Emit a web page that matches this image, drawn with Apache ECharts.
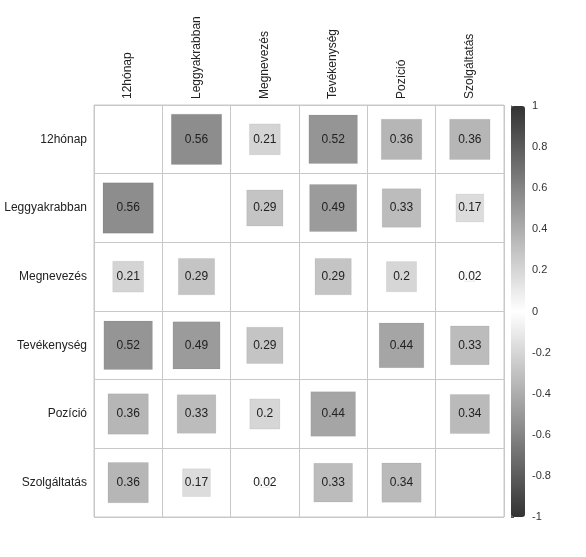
<!DOCTYPE html>
<html>
<head>
<meta charset="utf-8">
<script src="https://cdn.jsdelivr.net/npm/echarts@6/dist/echarts.min.js"></script>
<style>html,body{margin:0;padding:0;background:#fff;}#c{width:586px;height:557px;}</style>
</head>
<body>
<div id="c"></div>
<script>
const categories = ['12hónap', 'Leggyakrabban', 'Megnevezés', 'Tevékenység', 'Pozíció', 'Szolgáltatás'];
const row12honap       = [1.00, 0.56, 0.21, 0.52, 0.36, 0.36];
const rowLeggyakrabban = [0.56, 1.00, 0.29, 0.49, 0.33, 0.17];
const rowMegnevezes    = [0.21, 0.29, 1.00, 0.29, 0.20, 0.02];
const rowTevekenyseg   = [0.52, 0.49, 0.29, 1.00, 0.44, 0.33];
const rowPozicio       = [0.36, 0.33, 0.20, 0.44, 1.00, 0.34];
const rowSzolgaltatas  = [0.36, 0.17, 0.02, 0.33, 0.34, 1.00];
const colorbarTicks = [-1, -0.8, -0.6, -0.4, -0.2, 0, 0.2, 0.4, 0.6, 0.8, 1];

const matrix = [row12honap, rowLeggyakrabban, rowMegnevezes, rowTevekenyseg, rowPozicio, rowSzolgaltatas];
const data = [];
matrix.forEach((row, i) => row.forEach((v, j) => { if (i !== j) data.push([j, i, v]); }));

function greyFor(v) {
  const g = Math.round(255 - Math.abs(v) * (255 - 51));
  return 'rgb(' + g + ',' + g + ',' + g + ')';
}

const chart = echarts.init(document.getElementById('c'));
const font = 'Liberation Sans, Arial, sans-serif';
chart.setOption({
  backgroundColor: '#fff',
  animation: false,
  grid: [
    {left: 94, top: 105, width: 410, height: 412, show: true, borderColor: '#c8c8c8', borderWidth: 1, backgroundColor: 'transparent'},
    {left: 511, top: 106, width: 14, height: 411, show: false}
  ],
  xAxis: [
    {type: 'category', data: categories, position: 'top', gridIndex: 0,
     axisLine: {show: false}, axisTick: {show: false},
     splitLine: {show: true, lineStyle: {color: '#c8c8c8', width: 1}},
     axisLabel: {rotate: -90, margin: 6, fontSize: 12, color: '#222', fontFamily: font, padding: [6, 0, 0, 0]}},
    {type: 'value', gridIndex: 1, show: false, min: 0, max: 1}
  ],
  yAxis: [
    {type: 'category', data: categories, inverse: true, gridIndex: 0,
     axisLine: {show: false}, axisTick: {show: false},
     splitLine: {show: true, lineStyle: {color: '#c8c8c8', width: 1}},
     axisLabel: {margin: 7, fontSize: 12, color: '#222', fontFamily: font}},
    {type: 'value', gridIndex: 1, position: 'right', min: -1, max: 1, interval: 0.2,
     axisLine: {show: true, lineStyle: {color: '#555'}},
     axisTick: {show: true, length: 3, lineStyle: {color: '#555'}},
     splitLine: {show: false},
     axisLabel: {margin: 7, fontSize: 11, color: '#333', fontFamily: font,
       formatter: v => { const r = Math.round(v * 10) / 10; return colorbarTicks.includes(r) ? String(r) : ''; }}}
  ],
  visualMap: {
    type: 'continuous', min: -1, max: 1, dimension: 0, seriesIndex: 1,
    left: 511, top: 106, itemWidth: 14, itemHeight: 411,
    calculable: false, hoverLink: false, text: null, showLabel: false,
    inRange: {color: ['#333333', '#ffffff', '#333333']},
    textStyle: {color: 'transparent'}, padding: 0
  },
  series: [
    {type: 'custom', xAxisIndex: 0, yAxisIndex: 0, data: data,
     renderItem: function (params, api) {
       const v = api.value(2);
       const c = api.coord([api.value(0), api.value(1)]);
       const s = api.size([1, 1]);
       const side = Math.sqrt(Math.abs(v)) * Math.min(s[0], s[1]) * 0.985;
       return {type: 'group', children: [
         {type: 'rect', shape: {x: c[0] - side / 2, y: c[1] - side / 2, width: side, height: side},
          style: {fill: greyFor(v), stroke: 'rgba(0,0,0,0.06)', lineWidth: 1}},
         {type: 'text', style: {text: String(v), x: c[0], y: c[1], align: 'center', verticalAlign: 'middle',
          fontSize: 12, fill: '#222', fontFamily: font}}
       ]};
     }},
    {type: 'line', xAxisIndex: 1, yAxisIndex: 1, data: [], silent: true}
  ]
});
</script>
</body>
</html>
